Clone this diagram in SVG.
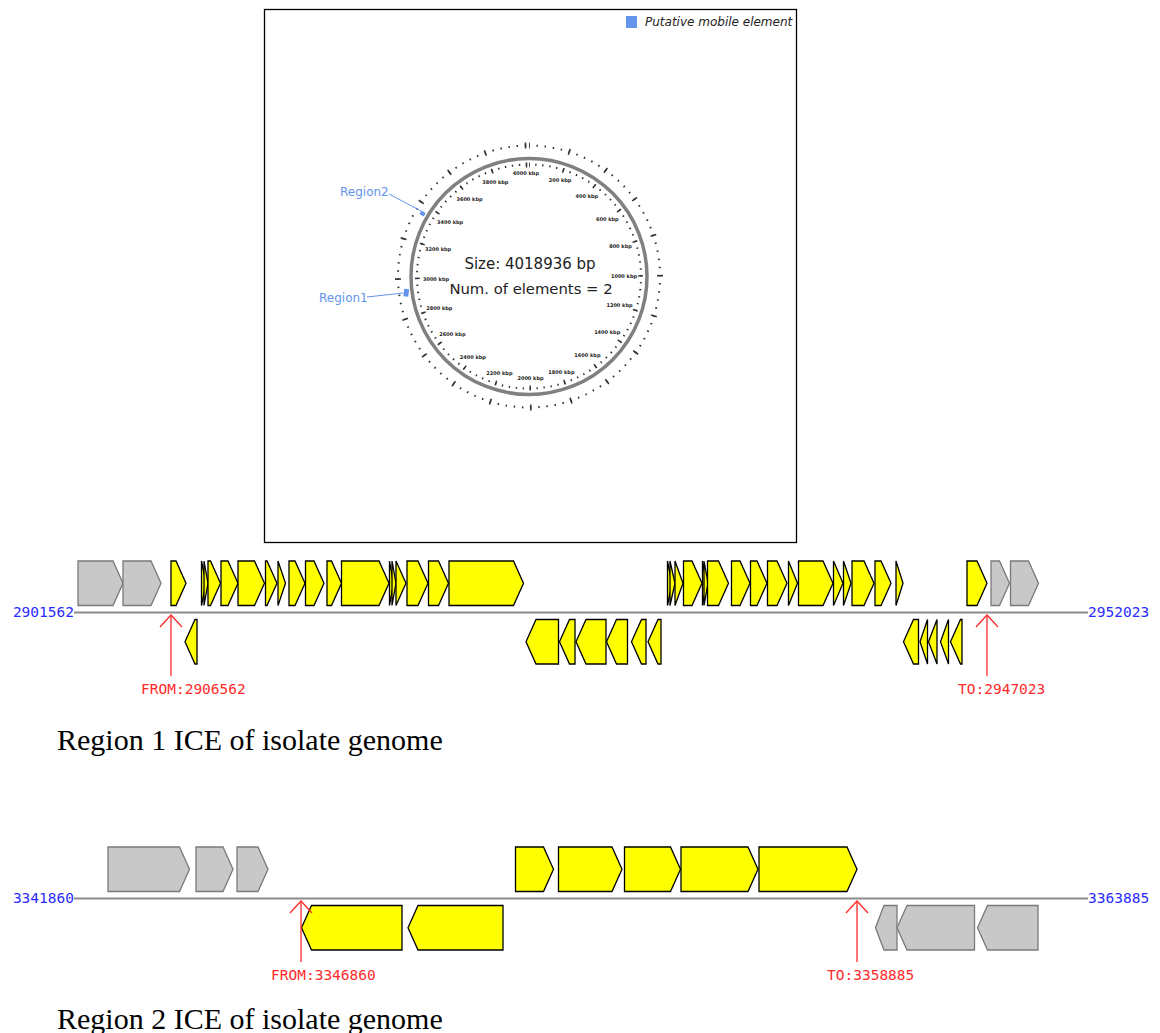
<svg xmlns="http://www.w3.org/2000/svg" width="1160" height="1033" viewBox="0 0 1160 1033">
<style>
.y{fill:#ffff00;stroke:#000;stroke-width:1.3;stroke-linejoin:miter}
.g{fill:#c8c8c8;stroke:#7a7a7a;stroke-width:1.3}
.axis{stroke:#8c8c8c;stroke-width:2}
.pos{font-family:"DejaVu Sans Mono","Liberation Mono",monospace;font-size:14.5px;fill:#2a2aff}
.mark{font-family:"DejaVu Sans Mono","Liberation Mono",monospace;font-size:14.5px;fill:#ff2a2a}
.arr{stroke:#ff2a2a;stroke-width:1.3;fill:none}
.cap{font-family:"Liberation Serif","Times New Roman",serif;font-size:30px;fill:#000}
.kbp{font-family:"DejaVu Sans",sans-serif;font-size:5px;font-weight:bold;fill:#222;text-anchor:middle}
.reg{font-family:"DejaVu Sans",sans-serif;font-size:12px;fill:#6495ed}
.tk{fill:none;stroke:#333}
</style>
<rect width="1160" height="1033" fill="#fff"/>

<g id="map">
<rect x="264.5" y="9.5" width="532" height="533" fill="#fff" stroke="#000" stroke-width="1.3"/>
<rect x="626" y="16" width="11" height="12" fill="#6495ed"/>
<text x="645" y="26" font-family="DejaVu Sans,sans-serif" font-size="12" font-style="italic" fill="#222">Putative mobile element</text>
<circle cx="529" cy="276.5" r="118" fill="none" stroke="#808080" stroke-width="3.5"/>
<circle class="tk" cx="529" cy="276.5" r="131" stroke-width="2" stroke-dasharray="1.5 6.6922" stroke-dashoffset="0.75" transform="rotate(-90 529 276.5)"/>
<circle class="tk" cx="529" cy="276.5" r="131" stroke-width="6" stroke-dasharray="1.6 39.361" stroke-dashoffset="0.8" transform="rotate(-90 529 276.5)"/>
<circle class="tk" cx="529" cy="276.5" r="112" stroke-width="2" stroke-dasharray="1.4 5.6041" stroke-dashoffset="0.7" transform="rotate(-90 529 276.5)"/>
<circle class="tk" cx="529" cy="276.5" r="111.5" stroke-width="5" stroke-dasharray="1.5 33.364" stroke-dashoffset="0.75" transform="rotate(-90 529 276.5)"/>
<g>
<text class="kbp" x="560.1" y="182.2">200 kbp</text>
<text class="kbp" x="586.8" y="198.4">400 kbp</text>
<text class="kbp" x="607.3" y="221">600 kbp</text>
<text class="kbp" x="620.5" y="248.2">800 kbp</text>
<text class="kbp" x="624" y="277.8">1000 kbp</text>
<text class="kbp" x="619.5" y="307">1200 kbp</text>
<text class="kbp" x="607.2" y="334.1">1400 kbp</text>
<text class="kbp" x="587.4" y="356.9">1600 kbp</text>
<text class="kbp" x="561.4" y="373.7">1800 kbp</text>
<text class="kbp" x="530.5" y="380.3">2000 kbp</text>
<text class="kbp" x="499.4" y="375">2200 kbp</text>
<text class="kbp" x="472.8" y="358.9">2400 kbp</text>
<text class="kbp" x="452.4" y="336.4">2600 kbp</text>
<text class="kbp" x="439.3" y="309.7">2800 kbp</text>
<text class="kbp" x="436" y="280.6">3000 kbp</text>
<text class="kbp" x="438.1" y="251.3">3200 kbp</text>
<text class="kbp" x="450.1" y="224.2">3400 kbp</text>
<text class="kbp" x="469.5" y="201">3600 kbp</text>
<text class="kbp" x="495.3" y="183.9">3800 kbp</text>
<text class="kbp" x="525.9" y="174.8">4000 kbp</text>
</g>
<text x="530" y="268.5" text-anchor="middle" font-family="DejaVu Sans,sans-serif" font-size="15" fill="#222">Size: 4018936 bp</text>
<text x="531" y="293.5" text-anchor="middle" font-family="DejaVu Sans,sans-serif" font-size="14.8" fill="#222">Num. of elements = 2</text>
</g>

<g id="region1-mark">
<path d="M405.8 296.5 A123 123 0 0 1 406.7 289" fill="none" stroke="#6495ed" stroke-width="5"/>
<line x1="367" y1="297" x2="403" y2="293" stroke="#6495ed" stroke-width="1"/>
<text class="reg" x="319" y="302">Region1</text>
</g>
<g id="region2-mark">
<path d="M421.5 215.2 A123 123 0 0 1 423.6 211.8" fill="none" stroke="#6495ed" stroke-width="5"/>
<line x1="389" y1="194" x2="421" y2="211" stroke="#6495ed" stroke-width="1"/>
<text class="reg" x="340" y="196">Region2</text>
</g>

<g id="track1">
<line class="axis" x1="74" y1="612.5" x2="1088" y2="612.5"/>
<text class="pos" x="74" y="616.5" text-anchor="end">2901562</text>
<text class="pos" x="1088" y="616.5">2952023</text>
<g id="genes1">
<polygon class="g" points="78,561 113,561 123,583.25 113,605.5 78,605.5"/>
<polygon class="g" points="123,561 151,561 161,583.25 151,605.5 123,605.5"/>
<polygon class="y" points="171,561 176,561 186,583.25 176,605.5 171,605.5"/>
<polygon class="y" points="201.5,561 206,583.25 201.5,605.5"/>
<polygon class="y" points="204,561 208,583.25 204,605.5"/>
<polygon class="y" points="208,561 210.5,561 220.5,583.25 210.5,605.5 208,605.5"/>
<polygon class="y" points="221,561 228,561 238,583.25 228,605.5 221,605.5"/>
<polygon class="y" points="238,561 254.5,561 264.5,583.25 254.5,605.5 238,605.5"/>
<polygon class="y" points="265.5,561 267,561 277,583.25 267,605.5 265.5,605.5"/>
<polygon class="y" points="278,561 285.5,583.25 278,605.5"/>
<polygon class="y" points="289,561 295,561 305,583.25 295,605.5 289,605.5"/>
<polygon class="y" points="305.5,561 314,561 324,583.25 314,605.5 305.5,605.5"/>
<polygon class="y" points="327,561 331.5,561 341.5,583.25 331.5,605.5 327,605.5"/>
<polygon class="y" points="341.5,561 379,561 389,583.25 379,605.5 341.5,605.5"/>
<polygon class="y" points="389.5,561 393.5,583.25 389.5,605.5"/>
<polygon class="y" points="392,561 396,583.25 392,605.5"/>
<polygon class="y" points="396,561 406,583.25 396,605.5"/>
<polygon class="y" points="407,561 418,561 428,583.25 418,605.5 407,605.5"/>
<polygon class="y" points="428.5,561 438.5,561 448.5,583.25 438.5,605.5 428.5,605.5"/>
<polygon class="y" points="449,561 513.5,561 523.5,583.25 513.5,605.5 449,605.5"/>
<polygon class="y" points="667.5,561 672,583.25 667.5,605.5"/>
<polygon class="y" points="670,561 675,583.25 670,605.5"/>
<polygon class="y" points="675,561 683,583.25 675,605.5"/>
<polygon class="y" points="683.5,561 692,561 702,583.25 692,605.5 683.5,605.5"/>
<polygon class="y" points="702.5,561 706.5,583.25 702.5,605.5"/>
<polygon class="y" points="704,561 708,583.25 704,605.5"/>
<polygon class="y" points="707.5,561 718.5,561 728.5,583.25 718.5,605.5 707.5,605.5"/>
<polygon class="y" points="731.5,561 740,561 750,583.25 740,605.5 731.5,605.5"/>
<polygon class="y" points="750.5,561 757,561 767,583.25 757,605.5 750.5,605.5"/>
<polygon class="y" points="767.5,561 777,561 787,583.25 777,605.5 767.5,605.5"/>
<polygon class="y" points="788.5,561 797.5,583.25 788.5,605.5"/>
<polygon class="y" points="798.5,561 823,561 833,583.25 823,605.5 798.5,605.5"/>
<polygon class="y" points="833.5,561 843,583.25 833.5,605.5"/>
<polygon class="y" points="843.5,561 851,583.25 843.5,605.5"/>
<polygon class="y" points="852,561 864,561 874,583.25 864,605.5 852,605.5"/>
<polygon class="y" points="875,561 881,561 891,583.25 881,605.5 875,605.5"/>
<polygon class="y" points="896,561 903,583.25 896,605.5"/>
<polygon class="y" points="967,561 977,561 987,583.25 977,605.5 967,605.5"/>
<polygon class="g" points="991,561 999.5,561 1009.5,583.25 999.5,605.5 991,605.5"/>
<polygon class="g" points="1010.5,561 1028.5,561 1038.5,583.25 1028.5,605.5 1010.5,605.5"/>
<polygon class="y" points="185,641.75 195,619.5 197,619.5 197,664 195,664"/>
<polygon class="y" points="526,641.75 536,619.5 558.5,619.5 558.5,664 536,664"/>
<polygon class="y" points="559.5,641.75 569.5,619.5 575,619.5 575,664 569.5,664"/>
<polygon class="y" points="576,641.75 586,619.5 606,619.5 606,664 586,664"/>
<polygon class="y" points="606.5,641.75 616.5,619.5 627.5,619.5 627.5,664 616.5,664"/>
<polygon class="y" points="631.5,641.75 641.5,619.5 646,619.5 646,664 641.5,664"/>
<polygon class="y" points="648,641.75 658,619.5 661,619.5 661,664 658,664"/>
<polygon class="y" points="903.5,641.75 913.5,619.5 918.5,619.5 918.5,664 913.5,664"/>
<polygon class="y" points="920,641.75 927.5,619.5 927.5,664"/>
<polygon class="y" points="928.5,641.75 937,619.5 937,664"/>
<polygon class="y" points="940.5,641.75 948.5,619.5 948.5,664"/>
<polygon class="y" points="950.5,641.75 960.5,619.5 962,619.5 962,664 960.5,664"/>
</g>
<g id="markers1">
<line class="arr" x1="171" y1="615" x2="171" y2="676"/>
<polyline class="arr" points="160,627 171,615 182,627"/>
<text class="mark" x="141" y="693.5">FROM:2906562</text>
<line class="arr" x1="987" y1="615" x2="987" y2="676"/>
<polyline class="arr" points="976,627 987,615 998,627"/>
<text class="mark" x="958" y="693.5">TO:2947023</text>
</g>
</g>
<text class="cap" x="57" y="750">Region 1 ICE of isolate genome</text>

<g id="track2">
<line class="axis" x1="74" y1="898.5" x2="1088" y2="898.5"/>
<text class="pos" x="74" y="902.5" text-anchor="end">3341860</text>
<text class="pos" x="1088" y="902.5">3363885</text>
<g id="genes2">
<polygon class="g" points="108,847 179.5,847 189.5,869.25 179.5,891.5 108,891.5"/>
<polygon class="g" points="196,847 223,847 233,869.25 223,891.5 196,891.5"/>
<polygon class="g" points="237,847 258,847 268,869.25 258,891.5 237,891.5"/>
<polygon class="y" points="515.5,847 543.5,847 553.5,869.25 543.5,891.5 515.5,891.5"/>
<polygon class="y" points="558.5,847 612,847 622,869.25 612,891.5 558.5,891.5"/>
<polygon class="y" points="624.5,847 670.5,847 680.5,869.25 670.5,891.5 624.5,891.5"/>
<polygon class="y" points="681,847 748,847 758,869.25 748,891.5 681,891.5"/>
<polygon class="y" points="759,847 847,847 857,869.25 847,891.5 759,891.5"/>
<polygon class="y" points="301.5,927.75 311.5,905.5 402,905.5 402,950 311.5,950"/>
<polygon class="y" points="408,927.75 418,905.5 503,905.5 503,950 418,950"/>
<polygon class="g" points="875.5,927.75 884,905.5 897,905.5 897,950 884,950"/>
<polygon class="g" points="897,927.75 907,905.5 974.5,905.5 974.5,950 907,950"/>
<polygon class="g" points="977.5,927.75 987.5,905.5 1038,905.5 1038,950 987.5,950"/>
</g>
<g id="markers2">
<line class="arr" x1="301" y1="901" x2="301" y2="962"/>
<polyline class="arr" points="290,913 301,901 312,913"/>
<text class="mark" x="271" y="979.5">FROM:3346860</text>
<line class="arr" x1="857" y1="901" x2="857" y2="962"/>
<polyline class="arr" points="846,913 857,901 868,913"/>
<text class="mark" x="827" y="979.5">TO:3358885</text>
</g>
</g>
<text class="cap" x="57" y="1029">Region 2 ICE of isolate genome</text>
</svg>
